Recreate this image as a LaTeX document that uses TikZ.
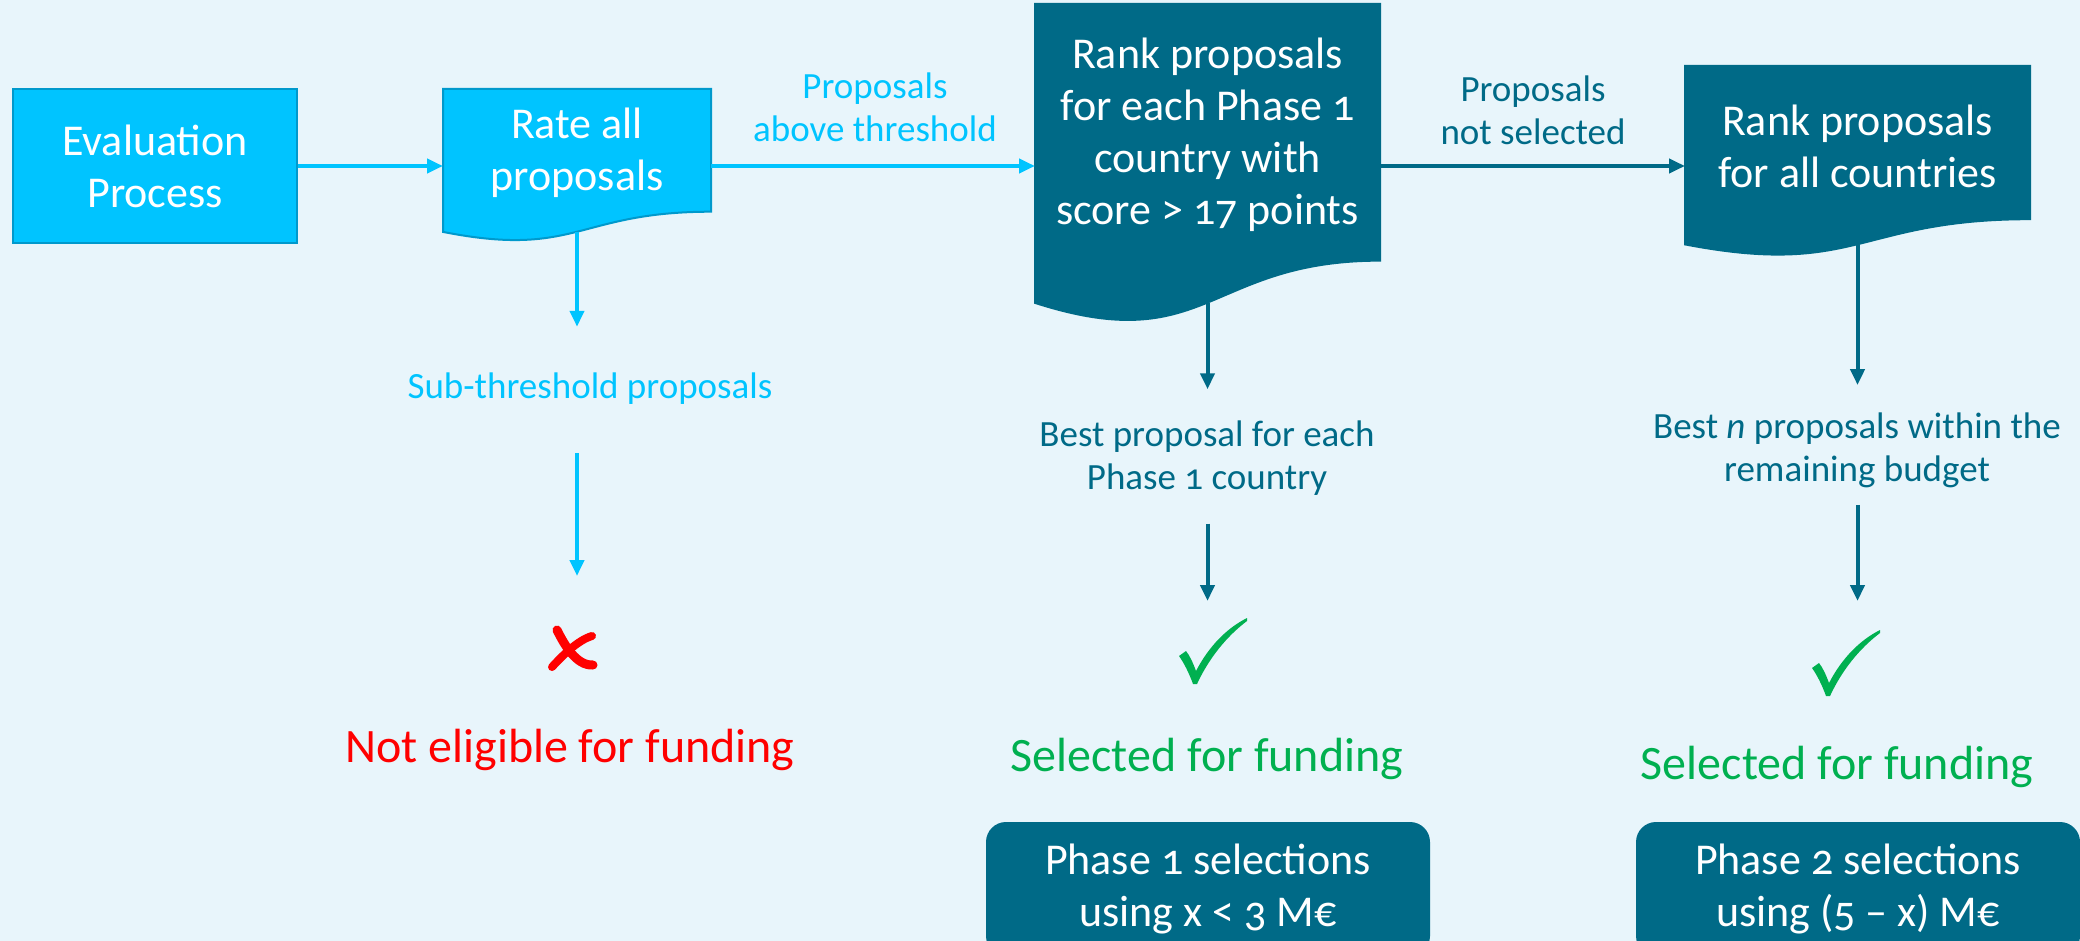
\documentclass[tikz,border=0pt]{standalone}
\usepackage{fontspec}
\setmainfont{Carlito}[Numbers=OldStyle]
\usetikzlibrary{arrows.meta,calc}

\definecolor{bgblue}{HTML}{E8F5FB}
\definecolor{cyanfill}{HTML}{00C4FF}
\definecolor{cyanedge}{HTML}{0099CC}
\definecolor{tealdark}{HTML}{006A87}
\definecolor{okgreen}{HTML}{00B050}
\definecolor{nored}{HTML}{FF0000}

% flowchart "document" outline built on the anchors of an empty node
\newcommand\docshape[3]{%
  \path[fill=#2,draw=#3,line width=1pt]
    (#1.north west) -- (#1.north east)
    -- ($(#1.north east)!0.802!(#1.south east)$)
    .. controls ($(#1.north)!0.802!(#1.south)$) and ($(#1.north)!1.1075!(#1.south)$)
    .. ($(#1.north west)!0.934!(#1.south west)$) -- cycle;
  \coordinate (#1-b) at ($(#1.north)!0.933!(#1.south)$);}

% brush-style tick inside an empty 68x66 node
\newcommand\tickmark[1]{%
  \fill[okgreen,shift={(#1.north west)}]
    (0,38) -- (7,33) .. controls (11,38) and (14,45) .. (17,53)
    .. controls (30,28) and (48,10) .. (68,0) -- (68,3)
    .. controls (48,18) and (30,40) .. (18,66) -- (14,66)
    .. controls (10,55) and (5,45) .. (0,38) -- cycle;}

% brush-style cross inside an empty 48x44 node
\newcommand\crossmark[1]{%
  \begin{scope}[shift={(#1.north west)},draw=nored,line cap=round]
    \draw[line width=4.5pt] (9,4) .. controls (16,18) and (28,40) .. (45,39);
    \draw[line width=4pt] (44,10) .. controls (30,14) and (14,30) .. (4,41);
  \end{scope}}

\begin{document}
\begin{tikzpicture}[x=0.5pt,y=-0.5pt,
  frame/.style={inner sep=0pt,outer sep=0pt},
  boxtext/.style={inner sep=0pt,text=white,align=center,
    font=\fontsize{22}{26}\selectfont},
  lbl/.style={inner sep=0pt,align=center,font=\fontsize{18.5}{21.5}\selectfont},
  big/.style={inner sep=0pt,align=center,font=\fontsize{24}{28}\selectfont},
  arrc/.style={line width=2pt,draw=cyanfill,-{Triangle[length=8pt,width=7pt]}},
  arrt/.style={line width=2pt,draw=tealdark,-{Triangle[length=8pt,width=7pt]}},
  phase/.style={fill=tealdark,rounded corners=10pt,inner sep=0pt,text=white,
    align=center,font=\fontsize{22}{26}\selectfont,
    minimum width=222pt,minimum height=67pt}]

\useasboundingbox (0,0) rectangle (2080,941);
\clip (0,0) rectangle (2080,941);
\fill[bgblue] (0,0) rectangle (2080,941);

% ---- top row -------------------------------------------------------
\node[boxtext,fill=cyanfill,draw=cyanedge,line width=1pt,
      minimum width=142pt,minimum height=77pt] (eval) at (155,166)
      {Evaluation\\Process};

\node[frame,anchor=north west,minimum width=134pt,minimum height=76.5pt]
      (rate) at (443,89) {};
\docshape{rate}{cyanfill}{cyanedge}
\node[boxtext] (ratetxt) at ($(rate.north)!0.42!(rate.south)$) {Rate all\\proposals};

\node[frame,anchor=north west,minimum width=172.5pt,minimum height=160pt]
      (rankA) at (1035,4) {};
\docshape{rankA}{tealdark}{tealdark}
\node[boxtext] (rankAtxt) at ($(rankA.north)!0.41!(rankA.south)$)
      {Rank proposals\\for each Phase 1\\country with\\score > 17 points};

\node[frame,anchor=north west,minimum width=172.5pt,minimum height=95.5pt]
      (rankB) at (1685,66) {};
\docshape{rankB}{tealdark}{tealdark}
\node[boxtext] (rankBtxt) at ($(rankB.north)!0.42!(rankB.south)$)
      {Rank proposals\\for all countries};

\draw[arrc] (eval.east) -- (eval.east -| rate.west);
\draw[arrc] (rate.east |- eval.east) -- (rankA.west |- eval.east);
\draw[arrt] (rankA.east |- eval.east) -- (rankB.west |- eval.east);

\node[lbl,text=cyanfill] (abv) at (875,107) {Proposals\\above threshold};
\node[lbl,text=tealdark] (nsel) at (1533,110) {Proposals\\not selected};

% ---- left column: rejected ----------------------------------------
\node[lbl,text=cyanfill] (sub) at (590,389) {Sub-threshold proposals};
\node[frame,minimum width=24pt,minimum height=22pt] (xmark) at (572,648) {};
\crossmark{xmark}
\node[big,text=nored] (noel) at (570,750) {Not eligible for funding};

\draw[arrc,shorten >=23pt] (rate-b) -- (rate-b |- sub.north);
\draw[arrc,shorten <=24pt,shorten >=25pt] (sub.south -| rate-b) -- (rate-b |- xmark.north);

% ---- middle column: phase 1 ---------------------------------------
\node[lbl,text=tealdark] (bestA) at (1207,458) {Best proposal for each\\Phase 1 country};
\node[frame,minimum width=34pt,minimum height=33pt] (chkA) at (1213,651) {};
\tickmark{chkA}
\node[big,text=okgreen] (selA) at (1207,759) {Selected for funding};
\node[phase] (phA) at (1208,889) {Phase 1 selections\\using x < 3 M€};

\draw[arrt,shorten >=15.5pt] (rankA-b) -- (rankA-b |- bestA.north);
\draw[arrt,shorten <=14pt,shorten >=8.5pt] (bestA.south -| rankA-b) -- (rankA-b |- chkA.north);

% ---- right column: phase 2 ----------------------------------------
\node[lbl,text=tealdark] (bestB) at (1857,450)
      {Best \textit{n} proposals within the\\remaining budget};
\node[frame,minimum width=34pt,minimum height=33pt] (chkB) at (1846,663) {};
\tickmark{chkB}
\node[big,text=okgreen] (selB) at (1837,767) {Selected for funding};
\node[phase] (phB) at (1858,889) {Phase 2 selections\\using (5 – x) M€};

\draw[arrt,shorten >=13.5pt] (rankB-b) -- (rankB-b |- bestB.north);
\draw[arrt,shorten <=8.5pt,shorten >=14.5pt] (bestB.south -| rankB-b) -- (rankB-b |- chkB.north);

\end{tikzpicture}
\end{document}
